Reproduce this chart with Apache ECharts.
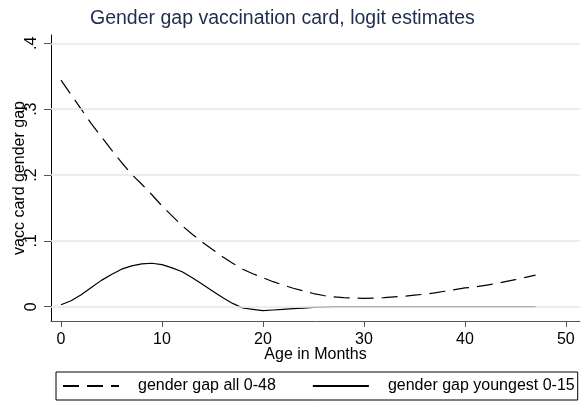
<!DOCTYPE html>
<html>
<head>
<meta charset="utf-8">
<script src="https://cdn.jsdelivr.net/npm/echarts@6/dist/echarts.min.js"></script>
<style>
html,body{margin:0;padding:0;background:#fff;}
#chart{width:582px;height:404px;}
</style>
</head>
<body>
<div id="chart"></div>
<script>
const months = [];
for (let m = 0; m <= 47; m++) months.push(m);
const gapAll = [0.344,0.322,0.300,0.278,0.258,0.238,0.219,0.201,0.186,0.170,
  0.153,0.138,0.123,0.110,0.098,0.087,0.076,0.066,0.057,0.050,
  0.044,0.038,0.033,0.028,0.024,0.020,0.017,0.0148,0.0138,0.013,
  0.0128,0.013,0.0138,0.015,0.016,0.0175,0.019,0.021,0.0235,0.026,
  0.0285,0.030,0.0325,0.035,0.038,0.041,0.0445,0.048];
const gapYoung = [0.003,0.009,0.018,0.029,0.040,0.049,0.057,0.062,0.065,0.066,
  0.064,0.059,0.053,0.044,0.034,0.024,0.014,0.005,-0.002,-0.004,
  -0.006,-0.005,-0.004,-0.003,-0.002,-0.001,-0.0005,0,0,0,
  0,0,0,0,0,0,0,0,0,0,
  0,0,0,0,0,0,0,0];
const xTicks = [0,10,20,30,40,50];
const yTicks = [0,0.1,0.2,0.3,0.4];
const yTickLabels = ['0','.1','.2','.3','.4'];
const seriesNames = ['gender gap all 0-48','gender gap youngest 0-15'];

const FONT = '"Liberation Sans", Arial, sans-serif';
const chart = echarts.init(document.getElementById('chart'), null, {renderer:'canvas'});
const pair = (xs, ys) => xs.map((x,i) => [x, ys[i]]);

chart.setOption({
  animation: false,
  backgroundColor: '#fff',
  title: {
    text: 'Gender gap vaccination card, logit estimates',
    left: 85, top: 4,
    textStyle: {fontFamily: FONT, fontSize: 19.5, fontWeight: 'normal', color: '#1e2d4e'}
  },
  grid: {left: 51, right: 2, top: 35, bottom: 83, containLabel: false, outerBoundsMode: 'none'},
  xAxis: {
    type: 'value', min: -0.99, max: 51.4,
    name: 'Age in Months', nameLocation: 'middle', nameGap: 26, nameMoveOverlap: false,
    nameTextStyle: {fontFamily: FONT, fontSize: 16, color: '#000'},
    axisLine: {show: true, onZero: false, lineStyle: {color: '#555', width: 1}},
    axisTick: {show: true, length: 6, customValues: xTicks, lineStyle: {color: '#555'}},
    axisLabel: {customValues: xTicks, margin: 11, fontFamily: FONT, fontSize: 16, color: '#000'},
    splitLine: {show: false}
  },
  yAxis: {
    type: 'value', min: -0.0217, max: 0.4126,
    name: 'vacc card gender gap', nameLocation: 'middle', nameGap: 23, nameRotate: 90, nameMoveOverlap: false,
    nameTextStyle: {fontFamily: FONT, fontSize: 16, color: '#000'},
    axisLine: {show: true, onZero: false, lineStyle: {color: '#000', width: 1}},
    axisTick: {show: true, length: 7, customValues: yTicks, lineStyle: {color: '#555'}},
    axisLabel: {customValues: yTicks, rotate: 90, margin: 11, fontFamily: FONT, fontSize: 16, color: '#000',
      formatter: v => { const i = yTicks.findIndex(t => Math.abs(t - v) < 1e-9); return i >= 0 ? yTickLabels[i] : ''; }},
    splitLine: {show: false}
  },
  legend: {
    left: 56, top: 372,
    data: seriesNames,
    itemWidth: 56, itemHeight: 14, itemGap: 36,
    padding: [6, 3, 6, 6],
    borderColor: '#000', borderWidth: 1,
    itemStyle: {opacity: 0},
    textStyle: {fontFamily: FONT, fontSize: 16, color: '#000', padding: [0,0,0,14]}
  },
  series: [
    {
      name: seriesNames[0], type: 'line', data: pair(months, gapAll),
      showSymbol: false, symbol: 'none', smooth: false, z: 3,
      lineStyle: {color: '#000', width: 1.2, type: [16, 8]},
      itemStyle: {color: '#000'}
    },
    {
      name: seriesNames[1], type: 'line', data: pair(months, gapYoung),
      showSymbol: false, symbol: 'none', smooth: false, z: 3,
      lineStyle: {color: '#000', width: 1.2, type: 'solid'},
      itemStyle: {color: '#000'},
      markLine: {
        silent: true, symbol: ['none', 'none'], label: {show: false},
        lineStyle: {color: '#e2eaea', type: 'solid', width: 1.5},
        data: yTicks.map(v => ({yAxis: v}))
      }
    }
  ]
});
</script>
</body>
</html>
